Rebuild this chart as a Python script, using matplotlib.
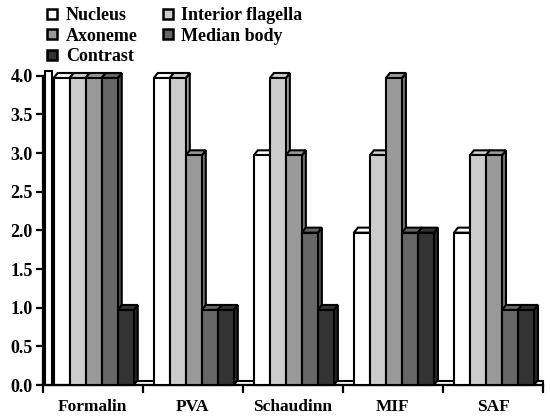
import numpy as np
import matplotlib
matplotlib.use("Agg")
from matplotlib import pyplot as plt
from matplotlib.patches import Polygon, Rectangle
from matplotlib.lines import Line2D
from matplotlib.colors import to_rgb

methods = ["Formalin", "PVA", "Schaudinn", "MIF", "SAF"]
series = ["Nucleus", "Interior flagella", "Axoneme", "Median body", "Contrast"]
nucleus = [4, 4, 3, 2, 2]
interior_flagella = [4, 4, 4, 3, 3]
axoneme = [4, 3, 3, 4, 3]
median_body = [4, 1, 2, 2, 1]
contrast = [1, 1, 1, 2, 1]
values = [nucleus, interior_flagella, axoneme, median_body, contrast]
colors = ["#ffffff", "#cccccc", "#999999", "#666666", "#333333"]
yticks = [0.0, 0.5, 1.0, 1.5, 2.0, 2.5, 3.0, 3.5, 4.0]

plt.rcParams['font.family'] = ['Liberation Serif', 'DejaVu Serif']
plt.rcParams['font.weight'] = 'bold'

fig = plt.figure(figsize=(5.5, 4.17), dpi=100)
ax = fig.add_axes([42.7 / 550, 32 / 417, 500.3 / 550, 309.3 / 417])
ax.set_xlim(0, len(methods))
ax.set_ylim(0, 4)

# fake 3D depth
dx, dy = 0.04, 0.065
sink = 0.03
bar_w = 0.16
start = 0.11
lw = 1.5


def darker(c, f=0.78):
    r, g, b = to_rgb(c)
    return (r * f, g * f, b * f)


# floor plate and left wall
ax.add_patch(Rectangle((0.0, 0), len(methods), 0.05, facecolor="white",
                       edgecolor="black", lw=lw, clip_on=False, zorder=1))
ax.add_patch(Polygon([(0.02, 0), (0.09, 0.0), (0.09, 4.0 + dy), (0.02, 4.0 + dy)],
                     closed=True, facecolor="white", edgecolor="black", lw=lw,
                     clip_on=False, zorder=1))

z = 2
for i, m in enumerate(methods):
    for j, s in enumerate(series):
        v = values[j][i] - sink
        x = i + start + j * bar_w
        side = [(x + bar_w, 0), (x + bar_w + dx, dy), (x + bar_w + dx, v + dy), (x + bar_w, v)]
        top = [(x, v), (x + bar_w, v), (x + bar_w + dx, v + dy), (x + dx, v + dy)]
        ax.add_patch(Polygon(side, closed=True, facecolor=darker(colors[j]),
                             edgecolor="black", lw=lw, clip_on=False, zorder=z))
        ax.add_patch(Polygon(top, closed=True, facecolor=colors[j],
                             edgecolor="black", lw=lw, clip_on=False, zorder=z))
        ax.add_patch(Rectangle((x, 0), bar_w, v, facecolor=colors[j],
                               edgecolor="black", lw=lw, clip_on=False, zorder=z))
        z += 1

for sp in ["top", "right"]:
    ax.spines[sp].set_visible(False)
ax.spines["left"].set_linewidth(1.6)
ax.spines["bottom"].set_linewidth(1.6)
ax.spines["left"].set_zorder(0)

ax.set_yticks(yticks)
ax.set_yticklabels([f"{t:.1f}" for t in yticks], fontsize=13, fontweight="bold")
ax.tick_params(axis="y", length=5, width=1.6, pad=2)

ax.set_xticks(np.arange(len(methods) + 1))
ax.set_xticklabels([])
ax.set_xticks(np.arange(len(methods)) + 0.5, minor=True)
ax.set_xticklabels(methods, minor=True, fontsize=12.5, fontweight="bold")
ax.tick_params(axis="x", which="major", length=6, width=1.6)
ax.tick_params(axis="x", which="minor", length=0, pad=10)

handles = [Line2D([], [], linestyle="none", marker="s", markersize=7.5,
                  markerfacecolor=c, markeredgecolor="black", markeredgewidth=1.8)
           for c in colors]
order = [0, 2, 4, 1, 3]
fig.legend([handles[k] for k in order], [series[k] for k in order], ncol=2,
           loc="upper left", bbox_to_anchor=(46 / 550, 1 - 7 / 417), frameon=False,
           handlelength=0.7, handletextpad=0.4, columnspacing=1.3,
           labelspacing=0.2, borderaxespad=0.0, borderpad=0.0,
           prop={"size": 13, "weight": "bold"})

fig.savefig("out.png", dpi=100)
